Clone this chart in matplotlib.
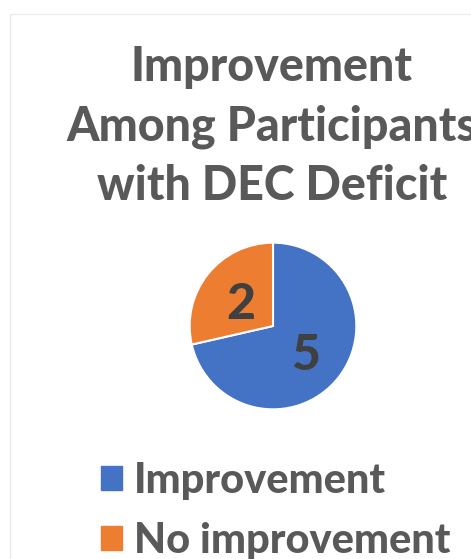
import matplotlib
matplotlib.use('Agg')
import matplotlib.pyplot as plt
import matplotlib.patches as mpatches

# data
labels = ['Improvement', 'No improvement']
counts = [5, 2]
colors = ['#4472C4', '#ED7D31']
title = 'Improvement\nAmong Participants\nwith DEC Deficit'

FONT = ['Lato', 'DejaVu Sans']
W, H = 471, 559
fig = plt.figure(figsize=(W / 100, H / 100), dpi=100)
fig.patch.set_facecolor('white')

# faint chart-area frame (Excel style)
frame = mpatches.Rectangle((10 / W, -0.1), 1.2, 1.1 - 14 / H,
                           transform=fig.transFigure, fill=False,
                           edgecolor='#EBEBEB', linewidth=1)
fig.patches.append(frame)

fig.text(272 / W, (H - 200) / H, title, ha='center', va='baseline',
         fontsize=33.5, fontweight='black', color='#595959',
         family=FONT, linespacing=1.42)

# pie placed by pixel box
cx, cy, r = 273, 326, 85
ax = fig.add_axes([(cx - r) / W, (H - cy - r) / H, 2 * r / W, 2 * r / H])
wedges, _, autotexts = ax.pie(
    counts, colors=colors, startangle=90, counterclock=False,
    autopct=lambda p: '%d' % round(p * sum(counts) / 100),
    pctdistance=0.5,
    wedgeprops=dict(edgecolor='white', linewidth=1.5))
for t in autotexts:
    t.set_fontsize(36)
    t.set_fontweight('black')
    t.set_color('#404040')
    t.set_family(FONT)
    t.set_va('center_baseline')
ax.set_xlim(-1.02, 1.02)
ax.set_ylim(-1.02, 1.02)

handles = [mpatches.Patch(color=c) for c in colors]
leg = fig.legend(handles, labels, loc='upper left',
                 bbox_to_anchor=(101 / W, (H - 462) / H),
                 frameon=False, handlelength=0.5, handleheight=0.5,
                 handletextpad=0.3, labelspacing=0.52,
                 borderpad=0, borderaxespad=0,
                 prop=dict(family=FONT, weight='black', size=30))
for t in leg.get_texts():
    t.set_color('#595959')

fig.savefig('out.png', dpi=100)
